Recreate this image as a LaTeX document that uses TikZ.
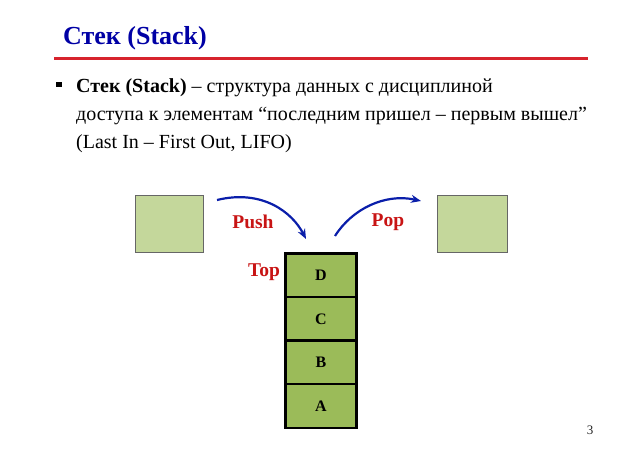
\documentclass[tikz,border=0pt]{standalone}
\usepackage{fontspec}
\setmainfont{Liberation Serif}
\usetikzlibrary{arrows.meta}
\definecolor{titleblue}{RGB}{0,0,165}
\definecolor{linered}{RGB}{215,35,45}
\definecolor{lblred}{RGB}{200,20,20}
\definecolor{lightgreen}{RGB}{196,215,155}
\definecolor{cellgreen}{RGB}{155,187,89}
\definecolor{arrowblue}{RGB}{10,30,170}
\tikzset{
  bodytext/.style={anchor=base west, inner sep=0pt, font=\fontsize{20}{24}\selectfont},
  sidebox/.style={draw=black!60, line width=0.9pt, fill=lightgreen},
  cell/.style={draw=black, line width=2.6pt, fill=cellgreen, minimum width=71pt, minimum height=44pt, inner sep=0pt, font=\bfseries\fontsize{16}{18}\selectfont},
  redlbl/.style={text=lblred, font=\bfseries\fontsize{19.5}{22}\selectfont, inner sep=0pt},
  movearrow/.style={draw=arrowblue, line width=2.2pt, -{Stealth[length=10pt,width=8pt]}}
}
\begin{document}
\begin{tikzpicture}[x=1pt,y=-1pt]
\useasboundingbox (0,0) rectangle (638,451);
\node[anchor=base west, inner sep=0pt, text=titleblue, font=\bfseries\fontsize{26}{30}\selectfont] (title) at (63,44) {Стек (Stack)};
\draw[linered, line width=3pt] (54,58) -- (588,58);
\fill (56,82) rectangle (61.5,87);
\node[bodytext] (l1) at (76,92) {\textbf{Стек (Stack)} – структура данных с дисциплиной};
\node[bodytext] (l2) at (76,120) {доступа к элементам “последним пришел – первым вышел”};
\node[bodytext] (l3) at (76,148) {(Last In – First Out, LIFO)};
\path[sidebox] (135,195) rectangle (203,252);
\path[sidebox] (437,195) rectangle (507,252);
\node[cell] (D) at (321,275.5) {D};
\node[cell] (C) at (321,319) {C};
\node[cell] (B) at (321,362.5) {B};
\node[cell] (A) at (321,406) {A};
\node[redlbl] (push) at (253,222) {Push};
\node[redlbl] (pop) at (388,222) {Pop};
\node[redlbl] (top) at (264,272) {Top};
\coordinate (pushs) at (217,200);
\coordinate (pushe) at (306,239);
\coordinate (pops) at (335,236);
\coordinate (pope) at (421,201);
\draw[movearrow] (pushs) .. controls (262,189) and (292,212) .. (pushe);
\draw[movearrow] (pops) .. controls (352,209) and (385,193) .. (pope);
\node[text=black!85, font=\fontsize{13}{15}\selectfont] (num) at (590,430) {3};
\end{tikzpicture}
\end{document}
